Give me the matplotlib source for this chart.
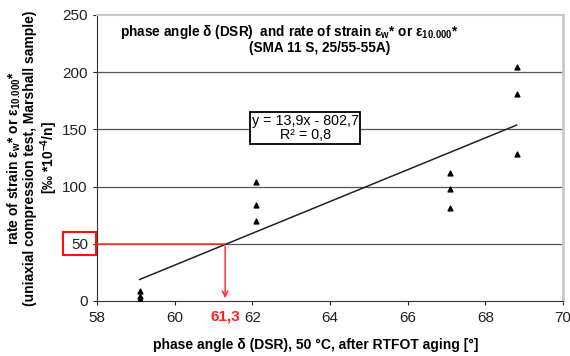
import matplotlib
matplotlib.use('Agg')
import matplotlib.pyplot as plt
from matplotlib.patches import Rectangle
import numpy as np

plt.rcParams['font.family'] = ['Liberation Sans', 'DejaVu Sans']
plt.rcParams['mathtext.fontset'] = 'custom'
plt.rcParams['mathtext.rm'] = 'Liberation Sans'
plt.rcParams['mathtext.bf'] = 'Liberation Sans:bold'
plt.rcParams['mathtext.it'] = 'Liberation Sans:italic'

# 数据：相位角与应变速率
phase_angle = [59.1, 59.1, 59.1, 62.1, 62.1, 62.1, 67.1, 67.1, 67.1, 68.8, 68.8, 68.8]
strain_rate = [9, 4, 2, 104, 84, 70, 112, 98, 81, 204, 181, 128]

# 趋势线 y = 13,9x - 802,7
slope = 13.9
intercept = -802.7
x_read = 61.3
y_read = 50

fig = plt.figure(figsize=(5.7, 3.56), dpi=100)
ax = fig.add_axes([0.170, 0.1545, 0.818, 0.804])

ax.set_xlim(58, 70)
ax.set_ylim(0, 250)
ax.set_xticks(np.arange(58, 71, 2))
ax.set_yticks(np.arange(0, 251, 50))
ax.tick_params(labelsize=11, direction='out', length=3, width=0.8, colors='#222222')
ax.tick_params(axis='x', pad=4)

for y in [50, 100, 150, 200]:
    ax.axhline(y, color='#555555', lw=0.9, zorder=1)

ax.spines['left'].set_color('#333333')
ax.spines['bottom'].set_color('#333333')
ax.spines['top'].set_color('#c8c8c8')
ax.spines['right'].set_color('#c8c8c8')
ax.spines['top'].set_linewidth(1.5)
ax.spines['right'].set_linewidth(2)

ax.scatter(phase_angle, strain_rate, marker='^', s=12, color='black', zorder=4)

xt = np.array([min(phase_angle), max(phase_angle)])
ax.plot(xt, slope * xt + intercept, color='#222222', lw=1.1, zorder=3)

# 红色读数线
ax.plot([58, x_read], [y_read, y_read], color='#ff3030', lw=1.1, zorder=5, clip_on=False)
ax.annotate('', xy=(x_read, 0), xytext=(x_read, y_read),
            arrowprops=dict(arrowstyle='->', color='#ff3030', lw=1.1), zorder=5)
ax.text(x_read, -7, '61,3', color='#ff2020', fontsize=11, fontweight='bold',
        ha='center', va='top')
ax.add_patch(Rectangle((57.12, 40), 0.86, 20.3, fill=False, edgecolor='#ff1010',
                       lw=1.5, clip_on=False, zorder=6))

ax.text(63.36, 151, 'y = 13,9x - 802,7\nR² = 0,8', ha='center', va='center',
        fontsize=10.3, linespacing=1.05,
        bbox=dict(boxstyle='square,pad=0.12', facecolor='white', edgecolor='black', lw=1.3),
        zorder=6)

ax.text(0.412, 0.972,
        r'phase angle δ (DSR)  and rate of strain ε$_{\mathbf{w}}$* or ε$_{\mathbf{10.000}}$*',
        transform=ax.transAxes, ha='center', va='top', fontsize=9.8, fontweight='bold')
ax.text(0.478, 0.907, '(SMA 11 S, 25/55-55A)',
        transform=ax.transAxes, ha='center', va='top', fontsize=9.8, fontweight='bold')

ax.set_xlabel('phase angle δ (DSR), 50 °C, after RTFOT aging [°]',
              fontsize=10, fontweight='bold')
ax.xaxis.set_label_coords(0.47, -0.13)
ax.set_ylabel(r'rate of strain ε$_{\mathbf{w}}$* or ε$_{\mathbf{10.000}}$*'
              '\n(uniaxial compression test, Marshall sample)'
              '\n' r'[‰ *10$^{\mathbf{-4}}$/n]',
              fontsize=10, fontweight='bold', linespacing=1.05, labelpad=2)

fig.savefig('out.png', dpi=100)
